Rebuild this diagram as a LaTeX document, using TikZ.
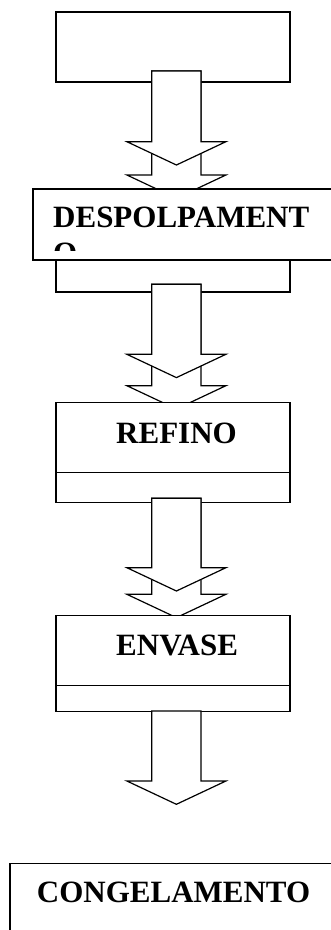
\documentclass[tikz,border=0pt]{standalone}
\usepackage{fontspec}
\setmainfont{Liberation Serif}
\begin{document}
\begin{tikzpicture}[x=1pt,y=-1pt,
  outline/.style={draw=black, line width=1.2pt, fill=white, inner sep=0pt,
                  outer sep=0pt, anchor=north west, minimum width=234pt},
  blockarrow/.style={draw=black, line width=1.2pt, fill=white, line join=miter},
  boxtext/.style={font=\fontsize{31}{35.6}\selectfont\bfseries, inner sep=0pt,
                  anchor=base west}]
\useasboundingbox (0,0) rectangle (331,930);

% hollow block arrow: #1 = top centre of the shaft, #2 = shaft length
\newcommand{\flowarrow}[2]{%
  \draw[blockarrow] ([xshift=-24.65pt]#1) -- ++(0pt,-#2) -- ++(-24.85pt,0pt)
    -- ++(49.5pt,-23.3pt) -- ++(49.5pt,23.3pt) -- ++(-24.85pt,0pt)
    -- ++(0pt,#2) -- cycle;}

% first stage
\node[outline, minimum height=94pt] (despBase) at (56,198) {};
\node[outline, minimum height=70pt] (start) at (56,12) {};
\coordinate (a1) at ([xshift=3.4pt,yshift=11pt]start.south);
\flowarrow{a1}{104pt}
\flowarrow{a1}{70.7pt}

% despolpamento
\node[outline, minimum width=310pt, minimum height=71pt] (despBox) at (33,189) {};
\begin{scope}
  \clip (33,189) rectangle (331,250.5);
  \node[boxtext] (despLabel) at (53,227.7)
    {\parbox[t]{300pt}{DESPOLPAMENT\\O}};
\end{scope}
\coordinate (a2) at ([xshift=3.4pt,yshift=7.7pt]despBase.south);
\flowarrow{a2}{101.4pt}
\flowarrow{a2}{70pt}

% refino
\node[outline, minimum height=100pt] (refBase) at (56,402.3) {};
\node[outline, minimum height=70pt] (refBox) at (56,402.3) {};
\node[boxtext] (refLabel) at (116,443.3) {REFINO};
\coordinate (a3) at ([xshift=3.4pt,yshift=4pt]refBase.south);
\flowarrow{a3}{96pt}
\flowarrow{a3}{69.4pt}

% envase
\node[outline, minimum height=96pt] (envBase) at (56,615.7) {};
\node[outline, minimum height=70pt] (envBox) at (56,615.7) {};
\node[boxtext] (envLabel) at (116,655) {ENVASE};
\coordinate (a4) at ([xshift=3.4pt,yshift=0.7pt]envBase.south);
\flowarrow{a4}{70pt}

% congelamento
\node[outline, minimum width=330pt, minimum height=80pt] (congBox) at (10,863.3) {};
\node[boxtext] (congLabel) at (36.7,902.3) {CONGELAMENTO};
\end{tikzpicture}
\end{document}
